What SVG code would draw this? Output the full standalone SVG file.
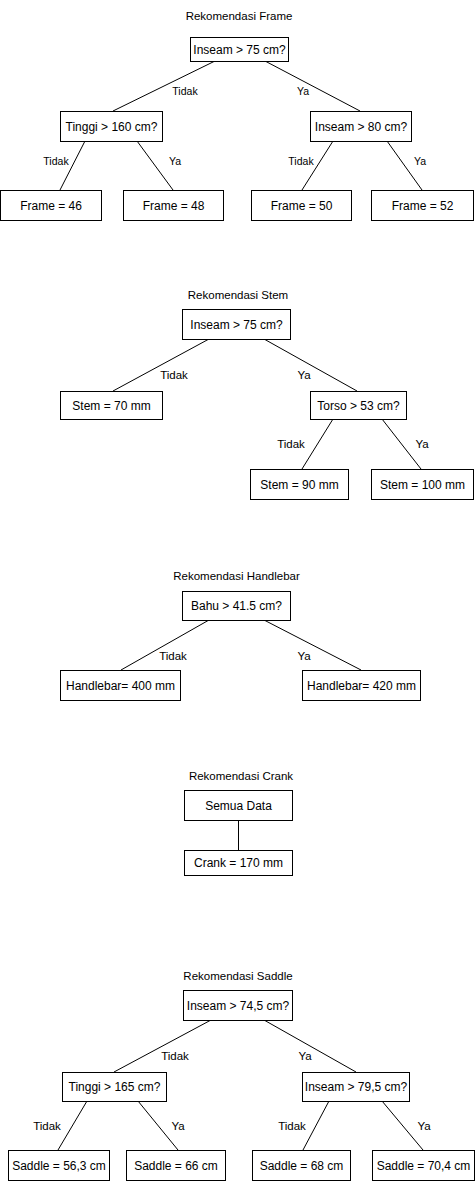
<svg xmlns="http://www.w3.org/2000/svg" width="475" height="1181" viewBox="0 0 475 1181">
<style>
rect.n{fill:#fff;stroke:#000;stroke-width:1}
text{font-family:"Liberation Sans",Arial,sans-serif;fill:#000;text-anchor:middle;dominant-baseline:central}
.t{font-size:12px}
.title{font-size:11.5px}
.l{font-size:11.5px}
.ls{font-size:10.5px}
.c line{stroke:#000;stroke-width:1}
</style>
<rect width="475" height="1181" fill="#fff"/>
<g id="connectors" class="c">
<line x1="215" y1="61" x2="113" y2="111"/>
<line x1="265" y1="61" x2="360" y2="111"/>
<line x1="85" y1="141" x2="60" y2="190"/>
<line x1="137" y1="141" x2="173" y2="190"/>
<line x1="333" y1="141" x2="302" y2="190"/>
<line x1="387" y1="141" x2="422" y2="190"/>
<line x1="209" y1="339" x2="113" y2="391"/>
<line x1="264" y1="339" x2="357" y2="391"/>
<line x1="333" y1="419" x2="302" y2="469"/>
<line x1="382" y1="419" x2="421" y2="469"/>
<line x1="209" y1="620" x2="121" y2="670"/>
<line x1="264" y1="620" x2="361" y2="670"/>
<line x1="238.5" y1="820" x2="238.5" y2="850"/>
<line x1="211" y1="1020" x2="114" y2="1072"/>
<line x1="264" y1="1020" x2="356" y2="1072"/>
<line x1="87" y1="1101" x2="58" y2="1150"/>
<line x1="138" y1="1101" x2="178" y2="1150"/>
<line x1="329" y1="1101" x2="303" y2="1150"/>
<line x1="382" y1="1101" x2="423" y2="1150"/>
</g>
<g id="labels">
<text class="ls" x="185" y="91">Tidak</text>
<text class="ls" x="303" y="91">Ya</text>
<text class="ls" x="56" y="161">Tidak</text>
<text class="ls" x="175" y="161">Ya</text>
<text class="ls" x="301" y="161">Tidak</text>
<text class="ls" x="420" y="161">Ya</text>
<text class="l" x="174" y="375">Tidak</text>
<text class="l" x="304" y="375">Ya</text>
<text class="l" x="291" y="444">Tidak</text>
<text class="l" x="422" y="444">Ya</text>
<text class="l" x="173" y="656">Tidak</text>
<text class="l" x="304" y="656">Ya</text>
<text class="l" x="175" y="1056">Tidak</text>
<text class="l" x="305" y="1056">Ya</text>
<text class="l" x="47" y="1126">Tidak</text>
<text class="l" x="178" y="1126">Ya</text>
<text class="l" x="292" y="1126">Tidak</text>
<text class="l" x="424" y="1126">Ya</text>
</g>
<g id="titles">
<text class="title" x="239" y="16">Rekomendasi Frame</text>
<text class="title" x="238" y="295">Rekomendasi Stem</text>
<text class="title" x="236.5" y="576">Rekomendasi Handlebar</text>
<text class="title" x="241" y="776">Rekomendasi Crank</text>
<text class="title" x="238" y="976">Rekomendasi Saddle</text>
</g>
<g id="frame-root"><rect class="n" x="190.5" y="37.5" width="98" height="24"/><text class="t" x="239.5" y="49.5">Inseam &gt; 75 cm?</text></g>
<g id="frame-tinggi"><rect class="n" x="60.5" y="111.5" width="102" height="30"/><text class="t" x="111.5" y="126.5">Tinggi &gt; 160 cm?</text></g>
<g id="frame-inseam80"><rect class="n" x="310.5" y="111.5" width="101" height="30"/><text class="t" x="361" y="126.5">Inseam &gt; 80 cm?</text></g>
<g id="frame-46"><rect class="n" x="0.5" y="190.5" width="101" height="30"/><text class="t" x="51" y="205.5">Frame = 46</text></g>
<g id="frame-48"><rect class="n" x="123.5" y="190.5" width="100" height="30"/><text class="t" x="173.5" y="205.5">Frame = 48</text></g>
<g id="frame-50"><rect class="n" x="251.5" y="190.5" width="100" height="30"/><text class="t" x="301.5" y="205.5">Frame = 50</text></g>
<g id="frame-52"><rect class="n" x="371.5" y="190.5" width="102" height="30"/><text class="t" x="422.5" y="205.5">Frame = 52</text></g>
<g id="stem-root"><rect class="n" x="182.5" y="309.5" width="108" height="30"/><text class="t" x="236.5" y="324.5">Inseam &gt; 75 cm?</text></g>
<g id="stem-70"><rect class="n" x="60.5" y="391.5" width="102" height="28"/><text class="t" x="111.5" y="405.5">Stem = 70 mm</text></g>
<g id="stem-torso"><rect class="n" x="310.5" y="391.5" width="96" height="28"/><text class="t" x="358.5" y="405.5">Torso &gt; 53 cm?</text></g>
<g id="stem-90"><rect class="n" x="250.5" y="469.5" width="98" height="30"/><text class="t" x="299.5" y="484.5">Stem = 90 mm</text></g>
<g id="stem-100"><rect class="n" x="371.5" y="469.5" width="102" height="30"/><text class="t" x="422.5" y="484.5">Stem = 100 mm</text></g>
<g id="hb-root"><rect class="n" x="182.5" y="591.5" width="108" height="29"/><text class="t" x="236.5" y="606">Bahu &gt; 41.5 cm?</text></g>
<g id="hb-400"><rect class="n" x="60.5" y="670.5" width="120" height="30"/><text class="t" x="120.5" y="685.5">Handlebar= 400 mm</text></g>
<g id="hb-420"><rect class="n" x="302.5" y="670.5" width="118" height="30"/><text class="t" x="361.5" y="685.5">Handlebar= 420 mm</text></g>
<g id="crank-root"><rect class="n" x="184.5" y="790.5" width="108" height="30"/><text class="t" x="238.5" y="805.5">Semua Data</text></g>
<g id="crank-170"><rect class="n" x="184.5" y="850.5" width="108" height="25"/><text class="t" x="238.5" y="863">Crank = 170 mm</text></g>
<g id="saddle-root"><rect class="n" x="183.5" y="990.5" width="109" height="30"/><text class="t" x="238" y="1005.5">Inseam &gt; 74,5 cm?</text></g>
<g id="saddle-tinggi"><rect class="n" x="62.5" y="1072.5" width="104" height="29"/><text class="t" x="114.5" y="1087">Tinggi &gt; 165 cm?</text></g>
<g id="saddle-inseam"><rect class="n" x="302.5" y="1072.5" width="107" height="29"/><text class="t" x="356" y="1087">Inseam &gt; 79,5 cm?</text></g>
<g id="saddle-563"><rect class="n" x="8.5" y="1150.5" width="101" height="30"/><text class="t" x="59" y="1165.5">Saddle = 56,3 cm</text></g>
<g id="saddle-66"><rect class="n" x="126.5" y="1150.5" width="99" height="30"/><text class="t" x="176" y="1165.5">Saddle = 66 cm</text></g>
<g id="saddle-68"><rect class="n" x="252.5" y="1150.5" width="98" height="30"/><text class="t" x="301.5" y="1165.5">Saddle = 68 cm</text></g>
<g id="saddle-704"><rect class="n" x="372.5" y="1150.5" width="102" height="30"/><text class="t" x="423.5" y="1165.5">Saddle = 70,4 cm</text></g>
</svg>
